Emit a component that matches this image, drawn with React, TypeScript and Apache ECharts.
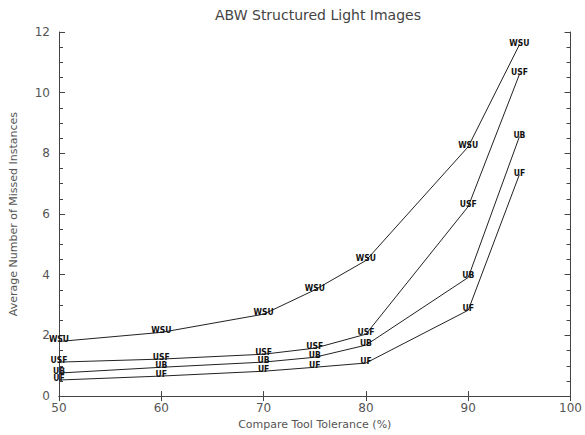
import React, { useEffect, useRef } from "react";
import * as echarts from "echarts";

const xValues = [50, 60, 70, 75, 80, 90, 95];
const wsu = [1.8, 2.1, 2.7, 3.5, 4.47, 8.22, 11.58];
const usf = [1.12, 1.22, 1.38, 1.58, 2.04, 6.25, 10.6];
const ub = [0.76, 0.95, 1.12, 1.28, 1.68, 3.91, 8.55];
const uf = [0.53, 0.66, 0.82, 0.95, 1.09, 2.83, 7.3];
const seriesNames = ["WSU", "USF", "UB", "UF"];
const seriesData = [wsu, usf, ub, uf];

export default function App() {
  const ref = useRef<HTMLDivElement>(null);
  useEffect(() => {
    document.body.style.margin = "0";
    if (!ref.current) return;
    const chart = echarts.init(ref.current, undefined, { renderer: "svg" });
    const axisColor = "#444";
    const textColor = "#555";
    const font = "DejaVu Sans";
    chart.setOption({
      animation: false,
      backgroundColor: "#fff",
      title: {
        text: "ABW Structured Light Images",
        left: 313,
        textAlign: "center",
        top: 3,
        textStyle: { fontSize: 14, fontWeight: "normal", color: "#444", fontFamily: font },
      },
      grid: { left: 57, right: 12, top: 32, bottom: 38 },
      xAxis: [
        {
          type: "value",
          min: 50,
          max: 100,
          interval: 10,
          position: "bottom",
          name: "Compare Tool Tolerance (%)",
          nameLocation: "middle",
          nameGap: 22,
          nameTextStyle: { fontSize: 11, color: textColor, fontFamily: font },
          axisLine: { show: true, lineStyle: { color: axisColor, width: 1 } },
          axisTick: { show: true, inside: true, length: 5, lineStyle: { color: axisColor } },
          axisLabel: { fontSize: 12, color: textColor, fontFamily: font, margin: 6 },
          splitLine: { show: false },
        },
        {
          type: "value",
          min: 50,
          max: 100,
          interval: 10,
          position: "top",
          axisLine: { show: true, lineStyle: { color: axisColor, width: 1 } },
          axisTick: { show: true, inside: true, length: 5, lineStyle: { color: axisColor } },
          axisLabel: { show: false },
          splitLine: { show: false },
        },
      ],
      yAxis: [
        {
          type: "value",
          min: 0,
          max: 12,
          interval: 2,
          position: "left",
          name: "Average Number of Missed Instances",
          nameLocation: "middle",
          nameGap: 40,
          nameTextStyle: { fontSize: 11, color: textColor, fontFamily: font },
          axisLine: { show: true, lineStyle: { color: axisColor, width: 1 } },
          axisTick: { show: true, inside: true, length: 6, lineStyle: { color: axisColor } },
          minorTick: { show: true, splitNumber: 4, length: 4, lineStyle: { color: axisColor } },
          axisLabel: { fontSize: 12, color: textColor, fontFamily: font, margin: 9 },
          splitLine: { show: false },
        },
        {
          type: "value",
          min: 0,
          max: 12,
          interval: 2,
          position: "right",
          axisLine: { show: true, lineStyle: { color: axisColor, width: 1 } },
          axisTick: { show: true, inside: true, length: 6, lineStyle: { color: axisColor } },
          minorTick: { show: true, splitNumber: 4, length: 4, lineStyle: { color: axisColor } },
          axisLabel: { show: false },
          splitLine: { show: false },
        },
      ],
      series: seriesNames.map((name, i) => ({
        type: "line",
        name,
        xAxisIndex: 0,
        yAxisIndex: 0,
        data: xValues.map((x, j) => [x, seriesData[i][j]]),
        symbol: "circle",
        symbolSize: 1,
        showSymbol: true,
        itemStyle: { color: "rgba(0,0,0,0)", borderWidth: 0 },
        lineStyle: { color: "#222", width: 1 },
        labelLayout: { hideOverlap: false },
        label: {
          show: true,
          position: "top",
          distance: -2,
          formatter: name,
          fontSize: 8.5,
          lineHeight: 7,
          fontWeight: "bold",
          fontFamily: "DejaVu Sans Condensed",
          color: "#111",
        },
      })),
    });
    return () => chart.dispose();
  }, []);
  return <div ref={ref} style={{ width: 585, height: 435 }} />;
}
